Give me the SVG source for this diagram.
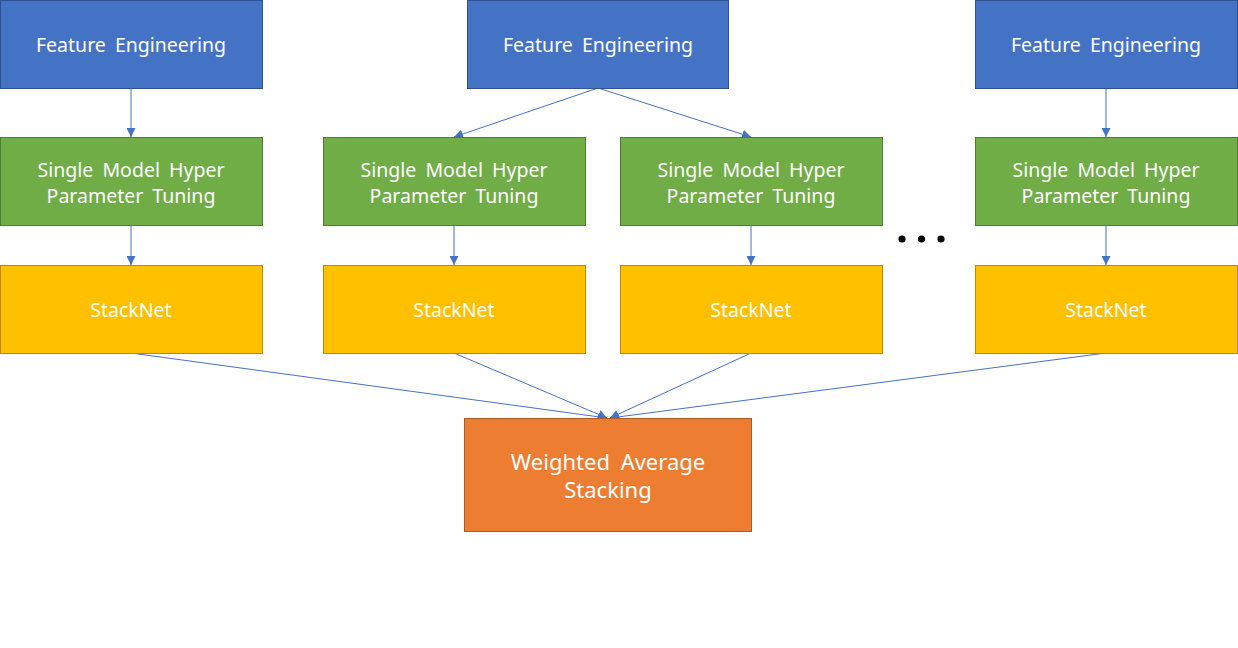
<svg xmlns="http://www.w3.org/2000/svg" width="1238" height="648" viewBox="0 0 1238 648">
<style>
.fe{fill:#4472C4;stroke:#2F528F;stroke-width:1}
.sm{fill:#70AD47;stroke:#507E32;stroke-width:1}
.sn{fill:#FFC000;stroke:#BC8C00;stroke-width:1}
.wa{fill:#ED7D31;stroke:#AE5A21;stroke-width:1}
text{font-family:"Noto Sans","Open Sans",sans-serif;font-size:19.5px;fill:#fff;text-anchor:middle;word-spacing:4px}
.big{font-size:22px;word-spacing:5px}
.c{stroke:#4472C4;stroke-width:1;fill:none;marker-end:url(#ah)}
</style>
<defs>
<marker id="ah" viewBox="0 0 10 10" refX="10" refY="5" markerWidth="9" markerHeight="9" markerUnits="userSpaceOnUse" orient="auto">
<path d="M0,0 L10,5 L0,10 z" fill="#4472C4"/>
</marker>
</defs>
<rect width="1238" height="648" fill="#fff"/>
<g id="connectors">
<line class="c" x1="131" y1="88" x2="131" y2="137"/>
<line class="c" x1="598" y1="88" x2="454" y2="137"/>
<line class="c" x1="598" y1="88" x2="751" y2="137"/>
<line class="c" x1="1106" y1="88" x2="1106" y2="137"/>
<line class="c" x1="131" y1="225" x2="131" y2="265"/>
<line class="c" x1="454" y1="225" x2="454" y2="265"/>
<line class="c" x1="751" y1="225" x2="751" y2="265"/>
<line class="c" x1="1106" y1="225" x2="1106" y2="265"/>
<line class="c" x1="131" y1="353" x2="607" y2="418"/>
<line class="c" x1="454" y1="353" x2="607" y2="418"/>
<line class="c" x1="751" y1="353" x2="610" y2="418"/>
<line class="c" x1="1106" y1="353" x2="610" y2="418"/>
</g>
<g id="fe1"><rect class="fe" x="0.5" y="0.5" width="262" height="88"/><text x="131" y="52">Feature Engineering</text></g>
<g id="fe2"><rect class="fe" x="467.5" y="0.5" width="261" height="88"/><text x="598" y="52">Feature Engineering</text></g>
<g id="fe3"><rect class="fe" x="975.5" y="0.5" width="262" height="88"/><text x="1106" y="52">Feature Engineering</text></g>
<g id="sm1"><rect class="sm" x="0.5" y="137.5" width="262" height="88"/><text x="131" y="177">Single Model Hyper</text><text x="131" y="203">Parameter Tuning</text></g>
<g id="sm2"><rect class="sm" x="323.5" y="137.5" width="262" height="88"/><text x="454" y="177">Single Model Hyper</text><text x="454" y="203">Parameter Tuning</text></g>
<g id="sm3"><rect class="sm" x="620.5" y="137.5" width="262" height="88"/><text x="751" y="177">Single Model Hyper</text><text x="751" y="203">Parameter Tuning</text></g>
<g id="sm4"><rect class="sm" x="975.5" y="137.5" width="262" height="88"/><text x="1106" y="177">Single Model Hyper</text><text x="1106" y="203">Parameter Tuning</text></g>
<g id="sn1"><rect class="sn" x="0.5" y="265.5" width="262" height="88"/><text x="131" y="317">StackNet</text></g>
<g id="sn2"><rect class="sn" x="323.5" y="265.5" width="262" height="88"/><text x="454" y="317">StackNet</text></g>
<g id="sn3"><rect class="sn" x="620.5" y="265.5" width="262" height="88"/><text x="751" y="317">StackNet</text></g>
<g id="sn4"><rect class="sn" x="975.5" y="265.5" width="262" height="88"/><text x="1106" y="317">StackNet</text></g>
<g id="dots"><circle cx="902" cy="239" r="3.6" fill="#000"/><circle cx="921.5" cy="239" r="3.6" fill="#000"/><circle cx="941" cy="239" r="3.6" fill="#000"/></g>
<g id="wa"><rect class="wa" x="464.5" y="418.5" width="287" height="113"/><text class="big" x="608" y="470">Weighted Average</text><text class="big" x="608" y="498">Stacking</text></g>
</svg>
